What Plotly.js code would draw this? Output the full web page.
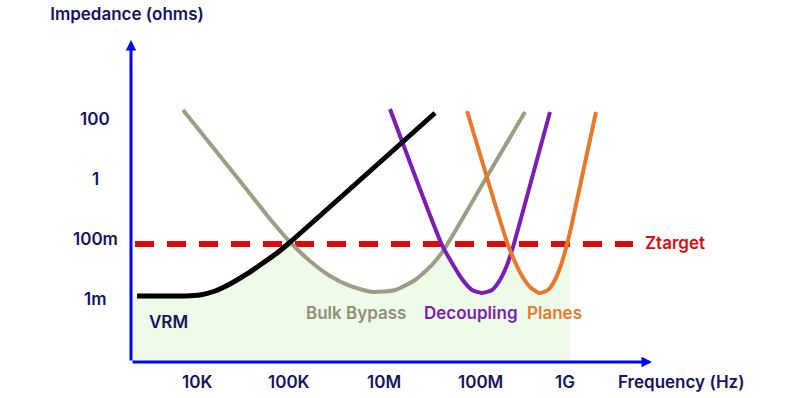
<!DOCTYPE html>
<html>
<head>
<meta charset="utf-8">
<script src="https://cdn.plot.ly/plotly-3.0.1.min.js"></script>
<style>html,body{margin:0;padding:0;background:#fff;}#chart{width:800px;height:398px;}</style>
</head>
<body>
<div id="chart"></div>
<script>
// Schematic axes: x = frequency position (label index), y = impedance position (label index)
var xTickPos = [1, 2, 3.03, 4.08, 5.0];
var xTickText = ['10K', '100K', '10M', '100M', '1G'];
var yTickPos = [1, 2, 3, 4];
var yTickText = ['1m', '100m', '1', '100'];

var vrmX = [0.348, 0.870, 1.033, 1.196, 1.359, 1.543, 1.717, 1.870, 1.989, 3.587];
var vrmY = [1.05, 1.05, 1.067, 1.133, 1.25, 1.417, 1.60, 1.767, 1.917, 4.10];

var bulkX = [0.848, 1.467, 1.793, 2.011, 2.228, 2.446, 2.663, 2.913, 3.152, 3.370, 3.554, 3.696, 4.130, 4.565];
var bulkY = [4.15, 2.967, 2.333, 1.95, 1.633, 1.383, 1.217, 1.117, 1.15, 1.317, 1.567, 1.85, 2.983, 4.117];

var decX = [3.098, 3.663, 3.772, 3.880, 3.989, 4.098, 4.207, 4.293, 4.370, 4.435, 4.511, 4.837];
var decY = [4.167, 1.90, 1.60, 1.333, 1.15, 1.10, 1.15, 1.317, 1.567, 1.867, 2.283, 4.117];

var planesX = [3.935, 4.380, 4.457, 4.533, 4.620, 4.717, 4.815, 4.891, 4.957, 5.011, 5.065, 5.337];
var planesY = [4.133, 1.90, 1.617, 1.383, 1.20, 1.10, 1.15, 1.317, 1.567, 1.85, 2.183, 4.117];

// combined (lowest) impedance envelope, shaded
var envX = [0.304, 0.870, 1.033, 1.196, 1.359, 1.543, 1.717, 1.870, 2.0, 2.228, 2.446, 2.663, 2.913, 3.152, 3.370, 3.554, 3.685, 3.772, 3.880, 3.989, 4.098, 4.207, 4.293, 4.370, 4.402, 4.457, 4.533, 4.620, 4.717, 4.815, 4.891, 4.957, 5.011, 5.054];
var envY = [1.05, 1.05, 1.067, 1.133, 1.25, 1.417, 1.60, 1.767, 1.917, 1.633, 1.383, 1.217, 1.117, 1.15, 1.317, 1.567, 1.883, 1.60, 1.333, 1.15, 1.10, 1.15, 1.317, 1.567, 1.767, 1.617, 1.383, 1.20, 1.10, 1.15, 1.317, 1.567, 1.85, 2.083];

var zTarget = 1.917;
var zTargetX = [0.326, 5.739];

var xRange = [0.2826, 5.9457];
var yRange = [-0.05, 5.3167];

var navy = '#14145f';
var FONT = 'Inter, "Noto Sans", sans-serif';

// close the shaded envelope down to the frequency axis
var fillX = envX.concat([envX[envX.length - 1], envX[0]]);
var fillY = envY.concat([yRange[0], yRange[0]]);

var traces = [
  {x: fillX, y: fillY, mode: 'lines', fill: 'toself', fillcolor: '#edfbe8', line: {width: 0, color: 'rgba(0,0,0,0)'}, hoverinfo: 'skip'},
  {x: zTargetX, y: [zTarget, zTarget], mode: 'lines', line: {color: '#dd0b0b', width: 6, dash: '19px,13px'}},
  {x: bulkX, y: bulkY, mode: 'lines', line: {color: '#9c9d83', width: 4, shape: 'spline', smoothing: 0.6}},
  {x: decX, y: decY, mode: 'lines', line: {color: '#7d1db5', width: 4, shape: 'spline', smoothing: 0.6}},
  {x: planesX, y: planesY, mode: 'lines', line: {color: '#e8792b', width: 4, shape: 'spline', smoothing: 0.6}},
  {x: vrmX, y: vrmY, mode: 'lines', line: {color: '#000000', width: 5, shape: 'spline', smoothing: 0.6}}
];

var plotW = 800 - 131 - 148;
var plotH = 398 - 40 - 36;

var ann = [];
// axis arrows
ann.push({xref: 'paper', yref: 'paper', x: 0, y: 1, ax: 0, ay: plotH, axref: 'pixel', ayref: 'pixel', text: '', showarrow: true, arrowhead: 2, arrowsize: 0.7, arrowwidth: 3, arrowcolor: '#0505f5'});
ann.push({xref: 'paper', yref: 'paper', x: 1, y: 0, ax: -plotW, ay: 0, axref: 'pixel', ayref: 'pixel', text: '', showarrow: true, arrowhead: 2, arrowsize: 0.7, arrowwidth: 3, arrowcolor: '#0505f5'});
// tick labels
xTickPos.forEach(function (v, i) {
  ann.push({xref: 'x', yref: 'paper', x: v, y: -20 / plotH, text: xTickText[i], showarrow: false, xanchor: 'center', yanchor: 'middle', font: {family: FONT, size: 17, color: navy, weight: 600}});
});
yTickPos.forEach(function (v, i) {
  ann.push({xref: 'paper', yref: 'y', x: -36 / plotW, y: v, text: yTickText[i], showarrow: false, xanchor: 'center', yanchor: 'middle', font: {family: FONT, size: 17, color: navy, weight: 600}});
});
// curve labels
ann.push({xref: 'x', yref: 'y', x: 0.685, y: 0.617, text: 'VRM', showarrow: false, font: {family: FONT, size: 17, color: navy, weight: 600}});
ann.push({xref: 'x', yref: 'y', x: 2.728, y: 0.767, text: 'Bulk Bypass', showarrow: false, font: {family: FONT, size: 17, color: '#8f907a', weight: 600}});
ann.push({xref: 'x', yref: 'y', x: 3.978, y: 0.767, text: 'Decoupling', showarrow: false, font: {family: FONT, size: 17, color: '#7d1db5', weight: 600}});
ann.push({xref: 'x', yref: 'y', x: 4.891, y: 0.767, text: 'Planes', showarrow: false, font: {family: FONT, size: 17, color: '#e8792b', weight: 600}});
ann.push({xref: 'x', yref: 'y', x: 5.848, y: 1.933, text: 'Ztarget', showarrow: false, xanchor: 'left', font: {family: FONT, size: 17, color: '#dd0b0b', weight: 600}});
ann.push({xref: 'paper', yref: 'paper', x: (681 - 131) / plotW, y: -20 / plotH, text: 'Frequency (Hz)', showarrow: false, xanchor: 'center', yanchor: 'middle', font: {family: FONT, size: 17, color: navy, weight: 600}});

var layout = {
  width: 800, height: 398,
  margin: {l: 131, r: 148, t: 40, b: 36, pad: 0},
  paper_bgcolor: '#ffffff', plot_bgcolor: 'rgba(0,0,0,0)',
  showlegend: false,
  title: {text: 'Impedance (ohms)', x: 127 / 800, xanchor: 'center', xref: 'container', y: 1 - 14 / 398, yanchor: 'middle', yref: 'container', font: {family: FONT, size: 17, color: navy, weight: 600}},
  xaxis: {range: xRange, showgrid: false, zeroline: false, showticklabels: false, showline: false, ticks: '', fixedrange: true},
  yaxis: {range: yRange, showgrid: false, zeroline: false, showticklabels: false, showline: false, ticks: '', fixedrange: true},
  annotations: ann
};

Plotly.newPlot('chart', traces, layout, {displayModeBar: false, staticPlot: true});
</script>
</body>
</html>
